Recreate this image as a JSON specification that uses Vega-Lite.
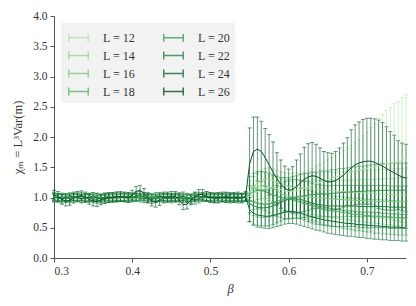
{
"$schema":"https://vega.github.io/schema/vega-lite/v6.json",
"width":352,"height":242,
"autosize":{"type":"none"},
"padding":{"left":54,"top":16,"right":10,"bottom":48},
"background":"white",
"data":{"values":[
{"L":12,"b":0.3,"m":1.0,"e":0.04},{"L":12,"b":0.305,"m":1.01,"e":0.04},{"L":12,"b":0.31,"m":1.0,"e":0.04},{"L":12,"b":0.315,"m":0.99,"e":0.04},{"L":12,"b":0.32,"m":1.0,"e":0.04},{"L":12,"b":0.325,"m":1.0,"e":0.04},{"L":12,"b":0.33,"m":1.01,"e":0.04},{"L":12,"b":0.335,"m":1.0,"e":0.04},{"L":12,"b":0.34,"m":1.0,"e":0.04},{"L":12,"b":0.345,"m":0.99,"e":0.04},
{"L":12,"b":0.35,"m":1.0,"e":0.04},{"L":12,"b":0.355,"m":1.01,"e":0.04},{"L":12,"b":0.36,"m":1.0,"e":0.04},{"L":12,"b":0.365,"m":1.0,"e":0.04},{"L":12,"b":0.37,"m":0.99,"e":0.04},{"L":12,"b":0.375,"m":1.0,"e":0.04},{"L":12,"b":0.38,"m":1.0,"e":0.04},{"L":12,"b":0.385,"m":1.01,"e":0.04},{"L":12,"b":0.39,"m":1.0,"e":0.04},{"L":12,"b":0.395,"m":1.0,"e":0.04},
{"L":12,"b":0.4,"m":0.99,"e":0.04},{"L":12,"b":0.405,"m":1.0,"e":0.04},{"L":12,"b":0.41,"m":1.01,"e":0.04},{"L":12,"b":0.415,"m":1.0,"e":0.04},{"L":12,"b":0.42,"m":1.0,"e":0.04},{"L":12,"b":0.425,"m":1.0,"e":0.04},{"L":12,"b":0.43,"m":0.99,"e":0.04},{"L":12,"b":0.435,"m":1.0,"e":0.04},{"L":12,"b":0.44,"m":1.01,"e":0.04},{"L":12,"b":0.445,"m":1.0,"e":0.04},
{"L":12,"b":0.45,"m":1.0,"e":0.04},{"L":12,"b":0.455,"m":0.99,"e":0.04},{"L":12,"b":0.46,"m":1.0,"e":0.04},{"L":12,"b":0.465,"m":1.0,"e":0.04},{"L":12,"b":0.47,"m":1.01,"e":0.04},{"L":12,"b":0.475,"m":1.0,"e":0.04},{"L":12,"b":0.48,"m":1.0,"e":0.04},{"L":12,"b":0.485,"m":0.99,"e":0.04},{"L":12,"b":0.49,"m":1.0,"e":0.04},{"L":12,"b":0.495,"m":1.01,"e":0.04},
{"L":12,"b":0.5,"m":1.0,"e":0.04},{"L":12,"b":0.505,"m":1.0,"e":0.04},{"L":12,"b":0.51,"m":0.99,"e":0.04},{"L":12,"b":0.515,"m":1.0,"e":0.04},{"L":12,"b":0.52,"m":1.0,"e":0.04},{"L":12,"b":0.525,"m":1.01,"e":0.04},{"L":12,"b":0.53,"m":1.0,"e":0.04},{"L":12,"b":0.535,"m":1.0,"e":0.04},{"L":12,"b":0.54,"m":0.99,"e":0.04},{"L":12,"b":0.545,"m":1.0,"e":0.04},
{"L":12,"b":0.55,"m":1.02,"e":0.12},{"L":12,"b":0.555,"m":1.06,"e":0.13},{"L":12,"b":0.56,"m":1.1,"e":0.14},{"L":12,"b":0.565,"m":1.13,"e":0.15},{"L":12,"b":0.57,"m":1.15,"e":0.16},{"L":12,"b":0.575,"m":1.16,"e":0.17},{"L":12,"b":0.58,"m":1.16,"e":0.18},{"L":12,"b":0.585,"m":1.15,"e":0.19},{"L":12,"b":0.59,"m":1.13,"e":0.2},{"L":12,"b":0.595,"m":1.11,"e":0.21},
{"L":12,"b":0.6,"m":1.1,"e":0.22},{"L":12,"b":0.605,"m":1.1,"e":0.23},{"L":12,"b":0.61,"m":1.11,"e":0.24},{"L":12,"b":0.615,"m":1.13,"e":0.25},{"L":12,"b":0.62,"m":1.15,"e":0.26},{"L":12,"b":0.625,"m":1.18,"e":0.27},{"L":12,"b":0.63,"m":1.2,"e":0.28},{"L":12,"b":0.635,"m":1.23,"e":0.29},{"L":12,"b":0.64,"m":1.25,"e":0.3},{"L":12,"b":0.645,"m":1.28,"e":0.31},
{"L":12,"b":0.65,"m":1.3,"e":0.32},{"L":12,"b":0.655,"m":1.32,"e":0.34},{"L":12,"b":0.66,"m":1.34,"e":0.36},{"L":12,"b":0.665,"m":1.36,"e":0.38},{"L":12,"b":0.67,"m":1.38,"e":0.4},{"L":12,"b":0.675,"m":1.4,"e":0.42},{"L":12,"b":0.68,"m":1.42,"e":0.44},{"L":12,"b":0.685,"m":1.44,"e":0.47},{"L":12,"b":0.69,"m":1.45,"e":0.5},{"L":12,"b":0.695,"m":1.47,"e":0.55},
{"L":12,"b":0.7,"m":1.48,"e":0.6},{"L":12,"b":0.705,"m":1.5,"e":0.66},{"L":12,"b":0.71,"m":1.51,"e":0.72},{"L":12,"b":0.715,"m":1.53,"e":0.78},{"L":12,"b":0.72,"m":1.54,"e":0.83},{"L":12,"b":0.725,"m":1.56,"e":0.88},{"L":12,"b":0.73,"m":1.57,"e":0.92},{"L":12,"b":0.735,"m":1.59,"e":0.96},{"L":12,"b":0.74,"m":1.6,"e":0.99},{"L":12,"b":0.745,"m":1.62,"e":1.03},{"L":12,"b":0.75,"m":1.63,"e":1.07},

{"L":14,"b":0.3,"m":1.01,"e":0.045},{"L":14,"b":0.305,"m":1.0,"e":0.045},{"L":14,"b":0.31,"m":1.0,"e":0.045},{"L":14,"b":0.315,"m":0.99,"e":0.045},{"L":14,"b":0.32,"m":1.0,"e":0.045},{"L":14,"b":0.325,"m":1.01,"e":0.045},{"L":14,"b":0.33,"m":1.0,"e":0.045},{"L":14,"b":0.335,"m":0.99,"e":0.045},{"L":14,"b":0.34,"m":1.0,"e":0.045},{"L":14,"b":0.345,"m":1.0,"e":0.045},
{"L":14,"b":0.35,"m":1.01,"e":0.045},{"L":14,"b":0.355,"m":1.0,"e":0.045},{"L":14,"b":0.36,"m":0.99,"e":0.045},{"L":14,"b":0.365,"m":1.0,"e":0.045},{"L":14,"b":0.37,"m":1.0,"e":0.045},{"L":14,"b":0.375,"m":1.01,"e":0.045},{"L":14,"b":0.38,"m":1.0,"e":0.045},{"L":14,"b":0.385,"m":1.0,"e":0.045},{"L":14,"b":0.39,"m":0.99,"e":0.045},{"L":14,"b":0.395,"m":1.0,"e":0.045},
{"L":14,"b":0.4,"m":1.01,"e":0.045},{"L":14,"b":0.405,"m":1.0,"e":0.045},{"L":14,"b":0.41,"m":1.0,"e":0.045},{"L":14,"b":0.415,"m":0.99,"e":0.045},{"L":14,"b":0.42,"m":1.0,"e":0.045},{"L":14,"b":0.425,"m":1.01,"e":0.045},{"L":14,"b":0.43,"m":1.0,"e":0.045},{"L":14,"b":0.435,"m":1.0,"e":0.045},{"L":14,"b":0.44,"m":0.99,"e":0.045},{"L":14,"b":0.445,"m":1.0,"e":0.045},
{"L":14,"b":0.45,"m":1.0,"e":0.045},{"L":14,"b":0.455,"m":1.01,"e":0.045},{"L":14,"b":0.46,"m":1.0,"e":0.045},{"L":14,"b":0.465,"m":1.0,"e":0.045},{"L":14,"b":0.47,"m":0.99,"e":0.045},{"L":14,"b":0.475,"m":1.0,"e":0.045},{"L":14,"b":0.48,"m":1.0,"e":0.045},{"L":14,"b":0.485,"m":1.01,"e":0.045},{"L":14,"b":0.49,"m":1.0,"e":0.045},{"L":14,"b":0.495,"m":0.99,"e":0.045},
{"L":14,"b":0.5,"m":1.0,"e":0.045},{"L":14,"b":0.505,"m":1.0,"e":0.045},{"L":14,"b":0.51,"m":1.01,"e":0.045},{"L":14,"b":0.515,"m":1.0,"e":0.045},{"L":14,"b":0.52,"m":1.0,"e":0.045},{"L":14,"b":0.525,"m":0.99,"e":0.045},{"L":14,"b":0.53,"m":1.0,"e":0.045},{"L":14,"b":0.535,"m":1.01,"e":0.045},{"L":14,"b":0.54,"m":1.0,"e":0.045},{"L":14,"b":0.545,"m":1.0,"e":0.045},
{"L":14,"b":0.55,"m":1.1,"e":0.15},{"L":14,"b":0.555,"m":1.18,"e":0.16},{"L":14,"b":0.56,"m":1.24,"e":0.17},{"L":14,"b":0.565,"m":1.28,"e":0.17},{"L":14,"b":0.57,"m":1.3,"e":0.18},{"L":14,"b":0.575,"m":1.3,"e":0.19},{"L":14,"b":0.58,"m":1.28,"e":0.19},{"L":14,"b":0.585,"m":1.25,"e":0.2},{"L":14,"b":0.59,"m":1.22,"e":0.21},{"L":14,"b":0.595,"m":1.2,"e":0.21},
{"L":14,"b":0.6,"m":1.18,"e":0.22},{"L":14,"b":0.605,"m":1.17,"e":0.23},{"L":14,"b":0.61,"m":1.17,"e":0.24},{"L":14,"b":0.615,"m":1.16,"e":0.24},{"L":14,"b":0.62,"m":1.16,"e":0.25},{"L":14,"b":0.625,"m":1.15,"e":0.26},{"L":14,"b":0.63,"m":1.15,"e":0.27},{"L":14,"b":0.635,"m":1.14,"e":0.27},{"L":14,"b":0.64,"m":1.13,"e":0.28},{"L":14,"b":0.645,"m":1.13,"e":0.29},
{"L":14,"b":0.65,"m":1.12,"e":0.3},{"L":14,"b":0.655,"m":1.11,"e":0.31},{"L":14,"b":0.66,"m":1.11,"e":0.31},{"L":14,"b":0.665,"m":1.1,"e":0.32},{"L":14,"b":0.67,"m":1.1,"e":0.33},{"L":14,"b":0.675,"m":1.09,"e":0.34},{"L":14,"b":0.68,"m":1.09,"e":0.34},{"L":14,"b":0.685,"m":1.08,"e":0.35},{"L":14,"b":0.69,"m":1.08,"e":0.36},{"L":14,"b":0.695,"m":1.07,"e":0.37},
{"L":14,"b":0.7,"m":1.07,"e":0.38},{"L":14,"b":0.705,"m":1.07,"e":0.38},{"L":14,"b":0.71,"m":1.06,"e":0.39},{"L":14,"b":0.715,"m":1.06,"e":0.4},{"L":14,"b":0.72,"m":1.06,"e":0.41},{"L":14,"b":0.725,"m":1.05,"e":0.41},{"L":14,"b":0.73,"m":1.05,"e":0.42},{"L":14,"b":0.735,"m":1.05,"e":0.43},{"L":14,"b":0.74,"m":1.04,"e":0.44},{"L":14,"b":0.745,"m":1.04,"e":0.44},{"L":14,"b":0.75,"m":1.04,"e":0.45},

{"L":16,"b":0.3,"m":1.0,"e":0.05},{"L":16,"b":0.305,"m":1.0,"e":0.05},{"L":16,"b":0.31,"m":1.01,"e":0.05},{"L":16,"b":0.315,"m":1.0,"e":0.05},{"L":16,"b":0.32,"m":0.99,"e":0.05},{"L":16,"b":0.325,"m":1.0,"e":0.05},{"L":16,"b":0.33,"m":1.0,"e":0.05},{"L":16,"b":0.335,"m":1.01,"e":0.05},{"L":16,"b":0.34,"m":1.0,"e":0.05},{"L":16,"b":0.345,"m":0.99,"e":0.05},
{"L":16,"b":0.35,"m":1.0,"e":0.05},{"L":16,"b":0.355,"m":1.01,"e":0.05},{"L":16,"b":0.36,"m":1.0,"e":0.05},{"L":16,"b":0.365,"m":1.0,"e":0.05},{"L":16,"b":0.37,"m":0.99,"e":0.05},{"L":16,"b":0.375,"m":1.0,"e":0.05},{"L":16,"b":0.38,"m":1.01,"e":0.05},{"L":16,"b":0.385,"m":1.0,"e":0.05},{"L":16,"b":0.39,"m":1.0,"e":0.05},{"L":16,"b":0.395,"m":0.99,"e":0.05},
{"L":16,"b":0.4,"m":1.0,"e":0.05},{"L":16,"b":0.405,"m":1.0,"e":0.05},{"L":16,"b":0.41,"m":1.01,"e":0.05},{"L":16,"b":0.415,"m":1.0,"e":0.05},{"L":16,"b":0.42,"m":0.99,"e":0.05},{"L":16,"b":0.425,"m":1.0,"e":0.05},{"L":16,"b":0.43,"m":1.0,"e":0.05},{"L":16,"b":0.435,"m":1.01,"e":0.05},{"L":16,"b":0.44,"m":1.0,"e":0.05},{"L":16,"b":0.445,"m":1.0,"e":0.05},
{"L":16,"b":0.45,"m":0.99,"e":0.05},{"L":16,"b":0.455,"m":1.0,"e":0.05},{"L":16,"b":0.46,"m":1.01,"e":0.05},{"L":16,"b":0.465,"m":1.0,"e":0.05},{"L":16,"b":0.47,"m":1.0,"e":0.05},{"L":16,"b":0.475,"m":0.99,"e":0.05},{"L":16,"b":0.48,"m":1.0,"e":0.05},{"L":16,"b":0.485,"m":1.0,"e":0.05},{"L":16,"b":0.49,"m":1.01,"e":0.05},{"L":16,"b":0.495,"m":1.0,"e":0.05},
{"L":16,"b":0.5,"m":1.0,"e":0.05},{"L":16,"b":0.505,"m":0.99,"e":0.05},{"L":16,"b":0.51,"m":1.0,"e":0.05},{"L":16,"b":0.515,"m":1.01,"e":0.05},{"L":16,"b":0.52,"m":1.0,"e":0.05},{"L":16,"b":0.525,"m":1.0,"e":0.05},{"L":16,"b":0.53,"m":0.99,"e":0.05},{"L":16,"b":0.535,"m":1.0,"e":0.05},{"L":16,"b":0.54,"m":1.0,"e":0.05},{"L":16,"b":0.545,"m":1.01,"e":0.05},
{"L":16,"b":0.55,"m":1.08,"e":0.2},{"L":16,"b":0.555,"m":1.14,"e":0.21},{"L":16,"b":0.56,"m":1.18,"e":0.21},{"L":16,"b":0.565,"m":1.2,"e":0.22},{"L":16,"b":0.57,"m":1.2,"e":0.22},{"L":16,"b":0.575,"m":1.18,"e":0.23},{"L":16,"b":0.58,"m":1.15,"e":0.23},{"L":16,"b":0.585,"m":1.11,"e":0.24},{"L":16,"b":0.59,"m":1.07,"e":0.24},{"L":16,"b":0.595,"m":1.04,"e":0.25},
{"L":16,"b":0.6,"m":1.02,"e":0.25},{"L":16,"b":0.605,"m":1.01,"e":0.26},{"L":16,"b":0.61,"m":1.01,"e":0.26},{"L":16,"b":0.615,"m":1.01,"e":0.27},{"L":16,"b":0.62,"m":1.01,"e":0.27},{"L":16,"b":0.625,"m":1.01,"e":0.28},{"L":16,"b":0.63,"m":1.0,"e":0.28},{"L":16,"b":0.635,"m":1.0,"e":0.29},{"L":16,"b":0.64,"m":0.99,"e":0.29},{"L":16,"b":0.645,"m":0.99,"e":0.3},
{"L":16,"b":0.65,"m":0.98,"e":0.3},{"L":16,"b":0.655,"m":0.98,"e":0.31},{"L":16,"b":0.66,"m":0.97,"e":0.31},{"L":16,"b":0.665,"m":0.97,"e":0.32},{"L":16,"b":0.67,"m":0.96,"e":0.32},{"L":16,"b":0.675,"m":0.96,"e":0.33},{"L":16,"b":0.68,"m":0.96,"e":0.33},{"L":16,"b":0.685,"m":0.95,"e":0.34},{"L":16,"b":0.69,"m":0.95,"e":0.34},{"L":16,"b":0.695,"m":0.95,"e":0.35},
{"L":16,"b":0.7,"m":0.94,"e":0.35},{"L":16,"b":0.705,"m":0.94,"e":0.36},{"L":16,"b":0.71,"m":0.94,"e":0.36},{"L":16,"b":0.715,"m":0.94,"e":0.37},{"L":16,"b":0.72,"m":0.93,"e":0.37},{"L":16,"b":0.725,"m":0.93,"e":0.38},{"L":16,"b":0.73,"m":0.93,"e":0.38},{"L":16,"b":0.735,"m":0.93,"e":0.39},{"L":16,"b":0.74,"m":0.93,"e":0.39},{"L":16,"b":0.745,"m":0.93,"e":0.4},{"L":16,"b":0.75,"m":0.93,"e":0.4},

{"L":18,"b":0.3,"m":1.01,"e":0.055},{"L":18,"b":0.305,"m":1.0,"e":0.055},{"L":18,"b":0.31,"m":0.99,"e":0.055},{"L":18,"b":0.315,"m":1.0,"e":0.055},{"L":18,"b":0.32,"m":1.01,"e":0.055},{"L":18,"b":0.325,"m":1.0,"e":0.055},{"L":18,"b":0.33,"m":0.99,"e":0.055},{"L":18,"b":0.335,"m":1.0,"e":0.055},{"L":18,"b":0.34,"m":1.01,"e":0.055},{"L":18,"b":0.345,"m":1.01,"e":0.055},
{"L":18,"b":0.35,"m":1.0,"e":0.055},{"L":18,"b":0.355,"m":0.99,"e":0.055},{"L":18,"b":0.36,"m":0.99,"e":0.055},{"L":18,"b":0.365,"m":1.0,"e":0.055},{"L":18,"b":0.37,"m":1.01,"e":0.055},{"L":18,"b":0.375,"m":1.0,"e":0.055},{"L":18,"b":0.38,"m":0.99,"e":0.055},{"L":18,"b":0.385,"m":0.99,"e":0.055},{"L":18,"b":0.39,"m":1.0,"e":0.055},{"L":18,"b":0.395,"m":1.01,"e":0.055},
{"L":18,"b":0.4,"m":1.0,"e":0.055},{"L":18,"b":0.405,"m":0.99,"e":0.055},{"L":18,"b":0.41,"m":1.0,"e":0.055},{"L":18,"b":0.415,"m":1.01,"e":0.055},{"L":18,"b":0.42,"m":1.01,"e":0.055},{"L":18,"b":0.425,"m":1.0,"e":0.055},{"L":18,"b":0.43,"m":0.99,"e":0.055},{"L":18,"b":0.435,"m":1.0,"e":0.055},{"L":18,"b":0.44,"m":1.0,"e":0.055},{"L":18,"b":0.445,"m":1.01,"e":0.055},
{"L":18,"b":0.45,"m":1.0,"e":0.055},{"L":18,"b":0.455,"m":0.99,"e":0.055},{"L":18,"b":0.46,"m":1.0,"e":0.055},{"L":18,"b":0.465,"m":1.01,"e":0.055},{"L":18,"b":0.47,"m":1.0,"e":0.055},{"L":18,"b":0.475,"m":0.99,"e":0.055},{"L":18,"b":0.48,"m":1.0,"e":0.055},{"L":18,"b":0.485,"m":1.0,"e":0.055},{"L":18,"b":0.49,"m":1.01,"e":0.055},{"L":18,"b":0.495,"m":1.0,"e":0.055},
{"L":18,"b":0.5,"m":0.99,"e":0.055},{"L":18,"b":0.505,"m":1.0,"e":0.055},{"L":18,"b":0.51,"m":1.01,"e":0.055},{"L":18,"b":0.515,"m":1.0,"e":0.055},{"L":18,"b":0.52,"m":1.0,"e":0.055},{"L":18,"b":0.525,"m":0.99,"e":0.055},{"L":18,"b":0.53,"m":1.0,"e":0.055},{"L":18,"b":0.535,"m":1.01,"e":0.055},{"L":18,"b":0.54,"m":1.0,"e":0.055},{"L":18,"b":0.545,"m":1.0,"e":0.055},
{"L":18,"b":0.55,"m":0.95,"e":0.22},{"L":18,"b":0.555,"m":0.92,"e":0.22},{"L":18,"b":0.56,"m":0.9,"e":0.22},{"L":18,"b":0.565,"m":0.89,"e":0.22},{"L":18,"b":0.57,"m":0.89,"e":0.22},{"L":18,"b":0.575,"m":0.9,"e":0.22},{"L":18,"b":0.58,"m":0.92,"e":0.22},{"L":18,"b":0.585,"m":0.94,"e":0.22},{"L":18,"b":0.59,"m":0.96,"e":0.22},{"L":18,"b":0.595,"m":0.97,"e":0.22},
{"L":18,"b":0.6,"m":0.97,"e":0.22},{"L":18,"b":0.605,"m":0.96,"e":0.23},{"L":18,"b":0.61,"m":0.94,"e":0.23},{"L":18,"b":0.615,"m":0.92,"e":0.23},{"L":18,"b":0.62,"m":0.9,"e":0.23},{"L":18,"b":0.625,"m":0.88,"e":0.24},{"L":18,"b":0.63,"m":0.86,"e":0.24},{"L":18,"b":0.635,"m":0.84,"e":0.24},{"L":18,"b":0.64,"m":0.82,"e":0.24},{"L":18,"b":0.645,"m":0.8,"e":0.25},
{"L":18,"b":0.65,"m":0.79,"e":0.25},{"L":18,"b":0.655,"m":0.78,"e":0.25},{"L":18,"b":0.66,"m":0.77,"e":0.25},{"L":18,"b":0.665,"m":0.76,"e":0.26},{"L":18,"b":0.67,"m":0.75,"e":0.26},{"L":18,"b":0.675,"m":0.74,"e":0.26},{"L":18,"b":0.68,"m":0.73,"e":0.26},{"L":18,"b":0.685,"m":0.72,"e":0.27},{"L":18,"b":0.69,"m":0.72,"e":0.27},{"L":18,"b":0.695,"m":0.71,"e":0.27},
{"L":18,"b":0.7,"m":0.7,"e":0.27},{"L":18,"b":0.705,"m":0.7,"e":0.27},{"L":18,"b":0.71,"m":0.69,"e":0.28},{"L":18,"b":0.715,"m":0.69,"e":0.28},{"L":18,"b":0.72,"m":0.68,"e":0.28},{"L":18,"b":0.725,"m":0.68,"e":0.28},{"L":18,"b":0.73,"m":0.67,"e":0.28},{"L":18,"b":0.735,"m":0.67,"e":0.28},{"L":18,"b":0.74,"m":0.66,"e":0.28},{"L":18,"b":0.745,"m":0.66,"e":0.28},{"L":18,"b":0.75,"m":0.66,"e":0.28},

{"L":20,"b":0.3,"m":1.0,"e":0.06},{"L":20,"b":0.305,"m":1.01,"e":0.06},{"L":20,"b":0.31,"m":1.0,"e":0.06},{"L":20,"b":0.315,"m":0.99,"e":0.06},{"L":20,"b":0.32,"m":1.0,"e":0.06},{"L":20,"b":0.325,"m":1.01,"e":0.06},{"L":20,"b":0.33,"m":0.99,"e":0.06},{"L":20,"b":0.335,"m":0.98,"e":0.06},{"L":20,"b":0.34,"m":0.99,"e":0.06},{"L":20,"b":0.345,"m":1.01,"e":0.06},
{"L":20,"b":0.35,"m":1.02,"e":0.06},{"L":20,"b":0.355,"m":1.01,"e":0.06},{"L":20,"b":0.36,"m":1.0,"e":0.06},{"L":20,"b":0.365,"m":0.99,"e":0.06},{"L":20,"b":0.37,"m":0.98,"e":0.06},{"L":20,"b":0.375,"m":0.99,"e":0.06},{"L":20,"b":0.38,"m":1.0,"e":0.06},{"L":20,"b":0.385,"m":1.01,"e":0.06},{"L":20,"b":0.39,"m":1.0,"e":0.06},{"L":20,"b":0.395,"m":1.0,"e":0.06},
{"L":20,"b":0.4,"m":0.99,"e":0.06},{"L":20,"b":0.405,"m":1.0,"e":0.06},{"L":20,"b":0.41,"m":1.01,"e":0.06},{"L":20,"b":0.415,"m":1.02,"e":0.06},{"L":20,"b":0.42,"m":1.01,"e":0.06},{"L":20,"b":0.425,"m":1.0,"e":0.06},{"L":20,"b":0.43,"m":0.98,"e":0.06},{"L":20,"b":0.435,"m":0.99,"e":0.06},{"L":20,"b":0.44,"m":1.0,"e":0.06},{"L":20,"b":0.445,"m":1.01,"e":0.06},
{"L":20,"b":0.45,"m":1.01,"e":0.06},{"L":20,"b":0.455,"m":1.0,"e":0.06},{"L":20,"b":0.46,"m":0.99,"e":0.06},{"L":20,"b":0.465,"m":0.98,"e":0.06},{"L":20,"b":0.47,"m":0.99,"e":0.06},{"L":20,"b":0.475,"m":1.0,"e":0.06},{"L":20,"b":0.48,"m":1.01,"e":0.06},{"L":20,"b":0.485,"m":1.0,"e":0.06},{"L":20,"b":0.49,"m":0.99,"e":0.06},{"L":20,"b":0.495,"m":1.0,"e":0.06},
{"L":20,"b":0.5,"m":1.01,"e":0.06},{"L":20,"b":0.505,"m":1.02,"e":0.06},{"L":20,"b":0.51,"m":1.01,"e":0.06},{"L":20,"b":0.515,"m":0.99,"e":0.06},{"L":20,"b":0.52,"m":0.98,"e":0.06},{"L":20,"b":0.525,"m":0.99,"e":0.06},{"L":20,"b":0.53,"m":1.0,"e":0.06},{"L":20,"b":0.535,"m":1.01,"e":0.06},{"L":20,"b":0.54,"m":1.0,"e":0.06},{"L":20,"b":0.545,"m":1.0,"e":0.06},
{"L":20,"b":0.55,"m":1.05,"e":0.3},{"L":20,"b":0.555,"m":1.1,"e":0.3},{"L":20,"b":0.56,"m":1.12,"e":0.31},{"L":20,"b":0.565,"m":1.12,"e":0.31},{"L":20,"b":0.57,"m":1.1,"e":0.32},{"L":20,"b":0.575,"m":1.07,"e":0.32},{"L":20,"b":0.58,"m":1.04,"e":0.33},{"L":20,"b":0.585,"m":1.02,"e":0.33},{"L":20,"b":0.59,"m":1.0,"e":0.33},{"L":20,"b":0.595,"m":0.99,"e":0.34},
{"L":20,"b":0.6,"m":0.99,"e":0.34},{"L":20,"b":0.605,"m":1.0,"e":0.35},{"L":20,"b":0.61,"m":1.01,"e":0.35},{"L":20,"b":0.615,"m":1.02,"e":0.36},{"L":20,"b":0.62,"m":1.03,"e":0.36},{"L":20,"b":0.625,"m":1.04,"e":0.36},{"L":20,"b":0.63,"m":1.05,"e":0.37},{"L":20,"b":0.635,"m":1.05,"e":0.37},{"L":20,"b":0.64,"m":1.06,"e":0.38},{"L":20,"b":0.645,"m":1.06,"e":0.38},
{"L":20,"b":0.65,"m":1.06,"e":0.38},{"L":20,"b":0.655,"m":1.07,"e":0.39},{"L":20,"b":0.66,"m":1.07,"e":0.39},{"L":20,"b":0.665,"m":1.08,"e":0.4},{"L":20,"b":0.67,"m":1.08,"e":0.4},{"L":20,"b":0.675,"m":1.09,"e":0.4},{"L":20,"b":0.68,"m":1.09,"e":0.41},{"L":20,"b":0.685,"m":1.1,"e":0.41},{"L":20,"b":0.69,"m":1.1,"e":0.42},{"L":20,"b":0.695,"m":1.1,"e":0.42},
{"L":20,"b":0.7,"m":1.11,"e":0.42},{"L":20,"b":0.705,"m":1.11,"e":0.43},{"L":20,"b":0.71,"m":1.11,"e":0.43},{"L":20,"b":0.715,"m":1.12,"e":0.43},{"L":20,"b":0.72,"m":1.12,"e":0.44},{"L":20,"b":0.725,"m":1.12,"e":0.44},{"L":20,"b":0.73,"m":1.12,"e":0.44},{"L":20,"b":0.735,"m":1.12,"e":0.45},{"L":20,"b":0.74,"m":1.12,"e":0.45},{"L":20,"b":0.745,"m":1.12,"e":0.45},{"L":20,"b":0.75,"m":1.12,"e":0.45},

{"L":22,"b":0.3,"m":0.99,"e":0.065},{"L":22,"b":0.305,"m":1.0,"e":0.065},{"L":22,"b":0.31,"m":1.01,"e":0.065},{"L":22,"b":0.315,"m":1.0,"e":0.065},{"L":22,"b":0.32,"m":0.98,"e":0.065},{"L":22,"b":0.325,"m":0.99,"e":0.065},{"L":22,"b":0.33,"m":1.01,"e":0.065},{"L":22,"b":0.335,"m":1.02,"e":0.065},{"L":22,"b":0.34,"m":1.0,"e":0.065},{"L":22,"b":0.345,"m":0.99,"e":0.065},
{"L":22,"b":0.35,"m":0.98,"e":0.065},{"L":22,"b":0.355,"m":0.97,"e":0.065},{"L":22,"b":0.36,"m":0.99,"e":0.065},{"L":22,"b":0.365,"m":1.01,"e":0.065},{"L":22,"b":0.37,"m":1.01,"e":0.065},{"L":22,"b":0.375,"m":1.0,"e":0.065},{"L":22,"b":0.38,"m":0.99,"e":0.065},{"L":22,"b":0.385,"m":1.0,"e":0.065},{"L":22,"b":0.39,"m":1.01,"e":0.065},{"L":22,"b":0.395,"m":1.02,"e":0.065},
{"L":22,"b":0.4,"m":1.01,"e":0.065},{"L":22,"b":0.405,"m":1.0,"e":0.065},{"L":22,"b":0.41,"m":0.99,"e":0.065},{"L":22,"b":0.415,"m":0.98,"e":0.065},{"L":22,"b":0.42,"m":0.99,"e":0.065},{"L":22,"b":0.425,"m":1.0,"e":0.065},{"L":22,"b":0.43,"m":1.02,"e":0.065},{"L":22,"b":0.435,"m":1.01,"e":0.065},{"L":22,"b":0.44,"m":0.99,"e":0.065},{"L":22,"b":0.445,"m":0.98,"e":0.065},
{"L":22,"b":0.45,"m":1.0,"e":0.065},{"L":22,"b":0.455,"m":1.01,"e":0.065},{"L":22,"b":0.46,"m":1.0,"e":0.065},{"L":22,"b":0.465,"m":0.99,"e":0.065},{"L":22,"b":0.47,"m":0.98,"e":0.065},{"L":22,"b":0.475,"m":0.99,"e":0.065},{"L":22,"b":0.48,"m":1.01,"e":0.065},{"L":22,"b":0.485,"m":1.02,"e":0.065},{"L":22,"b":0.49,"m":1.01,"e":0.065},{"L":22,"b":0.495,"m":1.0,"e":0.065},
{"L":22,"b":0.5,"m":0.99,"e":0.065},{"L":22,"b":0.505,"m":1.0,"e":0.065},{"L":22,"b":0.51,"m":1.01,"e":0.065},{"L":22,"b":0.515,"m":1.0,"e":0.065},{"L":22,"b":0.52,"m":0.99,"e":0.065},{"L":22,"b":0.525,"m":1.0,"e":0.065},{"L":22,"b":0.53,"m":1.01,"e":0.065},{"L":22,"b":0.535,"m":1.0,"e":0.065},{"L":22,"b":0.54,"m":0.99,"e":0.065},{"L":22,"b":0.545,"m":1.0,"e":0.065},
{"L":22,"b":0.55,"m":0.9,"e":0.3},{"L":22,"b":0.555,"m":0.86,"e":0.3},{"L":22,"b":0.56,"m":0.84,"e":0.3},{"L":22,"b":0.565,"m":0.83,"e":0.3},{"L":22,"b":0.57,"m":0.83,"e":0.3},{"L":22,"b":0.575,"m":0.84,"e":0.31},{"L":22,"b":0.58,"m":0.86,"e":0.31},{"L":22,"b":0.585,"m":0.89,"e":0.31},{"L":22,"b":0.59,"m":0.92,"e":0.31},{"L":22,"b":0.595,"m":0.95,"e":0.31},
{"L":22,"b":0.6,"m":0.97,"e":0.32},{"L":22,"b":0.605,"m":0.98,"e":0.32},{"L":22,"b":0.61,"m":0.98,"e":0.32},{"L":22,"b":0.615,"m":0.97,"e":0.32},{"L":22,"b":0.62,"m":0.95,"e":0.32},{"L":22,"b":0.625,"m":0.93,"e":0.33},{"L":22,"b":0.63,"m":0.91,"e":0.33},{"L":22,"b":0.635,"m":0.89,"e":0.33},{"L":22,"b":0.64,"m":0.88,"e":0.33},{"L":22,"b":0.645,"m":0.87,"e":0.33},
{"L":22,"b":0.65,"m":0.86,"e":0.33},{"L":22,"b":0.655,"m":0.86,"e":0.34},{"L":22,"b":0.66,"m":0.86,"e":0.34},{"L":22,"b":0.665,"m":0.86,"e":0.34},{"L":22,"b":0.67,"m":0.86,"e":0.34},{"L":22,"b":0.675,"m":0.86,"e":0.34},{"L":22,"b":0.68,"m":0.86,"e":0.34},{"L":22,"b":0.685,"m":0.86,"e":0.34},{"L":22,"b":0.69,"m":0.85,"e":0.35},{"L":22,"b":0.695,"m":0.85,"e":0.35},
{"L":22,"b":0.7,"m":0.85,"e":0.35},{"L":22,"b":0.705,"m":0.85,"e":0.35},{"L":22,"b":0.71,"m":0.85,"e":0.35},{"L":22,"b":0.715,"m":0.85,"e":0.35},{"L":22,"b":0.72,"m":0.85,"e":0.35},{"L":22,"b":0.725,"m":0.85,"e":0.35},{"L":22,"b":0.73,"m":0.84,"e":0.35},{"L":22,"b":0.735,"m":0.84,"e":0.35},{"L":22,"b":0.74,"m":0.84,"e":0.35},{"L":22,"b":0.745,"m":0.84,"e":0.35},{"L":22,"b":0.75,"m":0.84,"e":0.35},

{"L":24,"b":0.3,"m":1.01,"e":0.07},{"L":24,"b":0.305,"m":0.99,"e":0.07},{"L":24,"b":0.31,"m":0.98,"e":0.07},{"L":24,"b":0.315,"m":0.99,"e":0.07},{"L":24,"b":0.32,"m":1.01,"e":0.07},{"L":24,"b":0.325,"m":1.02,"e":0.07},{"L":24,"b":0.33,"m":1.0,"e":0.07},{"L":24,"b":0.335,"m":0.98,"e":0.07},{"L":24,"b":0.34,"m":0.99,"e":0.07},{"L":24,"b":0.345,"m":1.0,"e":0.07},
{"L":24,"b":0.35,"m":1.01,"e":0.07},{"L":24,"b":0.355,"m":1.0,"e":0.07},{"L":24,"b":0.36,"m":0.98,"e":0.07},{"L":24,"b":0.365,"m":0.97,"e":0.07},{"L":24,"b":0.37,"m":0.99,"e":0.07},{"L":24,"b":0.375,"m":1.01,"e":0.07},{"L":24,"b":0.38,"m":1.02,"e":0.07},{"L":24,"b":0.385,"m":1.01,"e":0.07},{"L":24,"b":0.39,"m":1.0,"e":0.07},{"L":24,"b":0.395,"m":0.99,"e":0.07},
{"L":24,"b":0.4,"m":1.0,"e":0.07},{"L":24,"b":0.405,"m":1.02,"e":0.07},{"L":24,"b":0.41,"m":1.03,"e":0.07},{"L":24,"b":0.415,"m":1.01,"e":0.07},{"L":24,"b":0.42,"m":0.98,"e":0.07},{"L":24,"b":0.425,"m":0.97,"e":0.07},{"L":24,"b":0.43,"m":0.99,"e":0.07},{"L":24,"b":0.435,"m":1.01,"e":0.07},{"L":24,"b":0.44,"m":1.02,"e":0.07},{"L":24,"b":0.445,"m":1.0,"e":0.07},
{"L":24,"b":0.45,"m":0.98,"e":0.07},{"L":24,"b":0.455,"m":0.99,"e":0.07},{"L":24,"b":0.46,"m":1.01,"e":0.07},{"L":24,"b":0.465,"m":1.02,"e":0.07},{"L":24,"b":0.47,"m":1.0,"e":0.07},{"L":24,"b":0.475,"m":0.97,"e":0.07},{"L":24,"b":0.48,"m":0.96,"e":0.07},{"L":24,"b":0.485,"m":0.98,"e":0.07},{"L":24,"b":0.49,"m":1.01,"e":0.07},{"L":24,"b":0.495,"m":1.02,"e":0.07},
{"L":24,"b":0.5,"m":1.01,"e":0.07},{"L":24,"b":0.505,"m":0.99,"e":0.07},{"L":24,"b":0.51,"m":0.98,"e":0.07},{"L":24,"b":0.515,"m":1.0,"e":0.07},{"L":24,"b":0.52,"m":1.02,"e":0.07},{"L":24,"b":0.525,"m":1.01,"e":0.07},{"L":24,"b":0.53,"m":0.99,"e":0.07},{"L":24,"b":0.535,"m":0.98,"e":0.07},{"L":24,"b":0.54,"m":1.0,"e":0.07},{"L":24,"b":0.545,"m":1.01,"e":0.07},
{"L":24,"b":0.55,"m":0.8,"e":0.2},{"L":24,"b":0.555,"m":0.74,"e":0.2},{"L":24,"b":0.56,"m":0.71,"e":0.2},{"L":24,"b":0.565,"m":0.7,"e":0.2},{"L":24,"b":0.57,"m":0.69,"e":0.2},{"L":24,"b":0.575,"m":0.69,"e":0.2},{"L":24,"b":0.58,"m":0.7,"e":0.2},{"L":24,"b":0.585,"m":0.72,"e":0.2},{"L":24,"b":0.59,"m":0.74,"e":0.2},{"L":24,"b":0.595,"m":0.76,"e":0.2},
{"L":24,"b":0.6,"m":0.77,"e":0.2},{"L":24,"b":0.605,"m":0.77,"e":0.2},{"L":24,"b":0.61,"m":0.76,"e":0.2},{"L":24,"b":0.615,"m":0.74,"e":0.2},{"L":24,"b":0.62,"m":0.72,"e":0.2},{"L":24,"b":0.625,"m":0.7,"e":0.2},{"L":24,"b":0.63,"m":0.68,"e":0.2},{"L":24,"b":0.635,"m":0.66,"e":0.2},{"L":24,"b":0.64,"m":0.65,"e":0.2},{"L":24,"b":0.645,"m":0.63,"e":0.2},
{"L":24,"b":0.65,"m":0.62,"e":0.21},{"L":24,"b":0.655,"m":0.61,"e":0.21},{"L":24,"b":0.66,"m":0.6,"e":0.21},{"L":24,"b":0.665,"m":0.59,"e":0.21},{"L":24,"b":0.67,"m":0.58,"e":0.21},{"L":24,"b":0.675,"m":0.57,"e":0.21},{"L":24,"b":0.68,"m":0.57,"e":0.21},{"L":24,"b":0.685,"m":0.56,"e":0.21},{"L":24,"b":0.69,"m":0.55,"e":0.21},{"L":24,"b":0.695,"m":0.55,"e":0.21},
{"L":24,"b":0.7,"m":0.54,"e":0.22},{"L":24,"b":0.705,"m":0.54,"e":0.22},{"L":24,"b":0.71,"m":0.53,"e":0.22},{"L":24,"b":0.715,"m":0.53,"e":0.22},{"L":24,"b":0.72,"m":0.52,"e":0.22},{"L":24,"b":0.725,"m":0.52,"e":0.22},{"L":24,"b":0.73,"m":0.51,"e":0.22},{"L":24,"b":0.735,"m":0.51,"e":0.22},{"L":24,"b":0.74,"m":0.51,"e":0.22},{"L":24,"b":0.745,"m":0.5,"e":0.22},{"L":24,"b":0.75,"m":0.5,"e":0.22},

{"L":26,"b":0.3,"m":1.04,"e":0.08},{"L":26,"b":0.305,"m":1.02,"e":0.08},{"L":26,"b":0.31,"m":0.97,"e":0.08},{"L":26,"b":0.315,"m":0.94,"e":0.08},{"L":26,"b":0.32,"m":0.95,"e":0.08},{"L":26,"b":0.325,"m":0.99,"e":0.08},{"L":26,"b":0.33,"m":1.02,"e":0.08},{"L":26,"b":0.335,"m":1.03,"e":0.08},{"L":26,"b":0.34,"m":1.01,"e":0.08},{"L":26,"b":0.345,"m":0.97,"e":0.08},
{"L":26,"b":0.35,"m":0.94,"e":0.08},{"L":26,"b":0.355,"m":0.93,"e":0.08},{"L":26,"b":0.36,"m":0.96,"e":0.08},{"L":26,"b":0.365,"m":0.99,"e":0.08},{"L":26,"b":0.37,"m":1.0,"e":0.08},{"L":26,"b":0.375,"m":1.0,"e":0.08},{"L":26,"b":0.38,"m":1.01,"e":0.08},{"L":26,"b":0.385,"m":1.02,"e":0.08},{"L":26,"b":0.39,"m":1.01,"e":0.08},{"L":26,"b":0.395,"m":1.0,"e":0.08},
{"L":26,"b":0.4,"m":1.04,"e":0.08},{"L":26,"b":0.405,"m":1.1,"e":0.08},{"L":26,"b":0.41,"m":1.12,"e":0.08},{"L":26,"b":0.415,"m":1.07,"e":0.08},{"L":26,"b":0.42,"m":1.0,"e":0.08},{"L":26,"b":0.425,"m":0.94,"e":0.08},{"L":26,"b":0.43,"m":0.92,"e":0.08},{"L":26,"b":0.435,"m":0.95,"e":0.08},{"L":26,"b":0.44,"m":0.99,"e":0.08},{"L":26,"b":0.445,"m":1.01,"e":0.08},
{"L":26,"b":0.45,"m":1.02,"e":0.08},{"L":26,"b":0.455,"m":1.02,"e":0.08},{"L":26,"b":0.46,"m":0.96,"e":0.08},{"L":26,"b":0.465,"m":0.88,"e":0.08},{"L":26,"b":0.47,"m":0.89,"e":0.08},{"L":26,"b":0.475,"m":0.96,"e":0.08},{"L":26,"b":0.48,"m":1.01,"e":0.08},{"L":26,"b":0.485,"m":1.05,"e":0.08},{"L":26,"b":0.49,"m":1.05,"e":0.08},{"L":26,"b":0.495,"m":1.02,"e":0.08},
{"L":26,"b":0.5,"m":1.0,"e":0.08},{"L":26,"b":0.505,"m":0.99,"e":0.08},{"L":26,"b":0.51,"m":1.0,"e":0.08},{"L":26,"b":0.515,"m":1.01,"e":0.08},{"L":26,"b":0.52,"m":1.0,"e":0.08},{"L":26,"b":0.525,"m":0.99,"e":0.08},{"L":26,"b":0.53,"m":1.0,"e":0.08},{"L":26,"b":0.535,"m":1.01,"e":0.08},{"L":26,"b":0.54,"m":0.99,"e":0.08},{"L":26,"b":0.545,"m":1.02,"e":0.08},
{"L":26,"b":0.55,"m":1.55,"e":0.6},{"L":26,"b":0.555,"m":1.76,"e":0.57},{"L":26,"b":0.56,"m":1.8,"e":0.53},{"L":26,"b":0.565,"m":1.76,"e":0.5},{"L":26,"b":0.57,"m":1.66,"e":0.48},{"L":26,"b":0.575,"m":1.54,"e":0.5},{"L":26,"b":0.58,"m":1.42,"e":0.5},{"L":26,"b":0.585,"m":1.31,"e":0.43},{"L":26,"b":0.59,"m":1.22,"e":0.4},{"L":26,"b":0.595,"m":1.15,"e":0.37},
{"L":26,"b":0.6,"m":1.12,"e":0.35},{"L":26,"b":0.605,"m":1.13,"e":0.38},{"L":26,"b":0.61,"m":1.18,"e":0.44},{"L":26,"b":0.615,"m":1.24,"e":0.48},{"L":26,"b":0.62,"m":1.3,"e":0.53},{"L":26,"b":0.625,"m":1.34,"e":0.55},{"L":26,"b":0.63,"m":1.36,"e":0.55},{"L":26,"b":0.635,"m":1.35,"e":0.53},{"L":26,"b":0.64,"m":1.32,"e":0.5},{"L":26,"b":0.645,"m":1.28,"e":0.48},
{"L":26,"b":0.65,"m":1.26,"e":0.48},{"L":26,"b":0.655,"m":1.26,"e":0.47},{"L":26,"b":0.66,"m":1.28,"e":0.48},{"L":26,"b":0.665,"m":1.32,"e":0.5},{"L":26,"b":0.67,"m":1.37,"e":0.53},{"L":26,"b":0.675,"m":1.43,"e":0.56},{"L":26,"b":0.68,"m":1.49,"e":0.63},{"L":26,"b":0.685,"m":1.54,"e":0.66},{"L":26,"b":0.69,"m":1.57,"e":0.68},{"L":26,"b":0.695,"m":1.59,"e":0.7},
{"L":26,"b":0.7,"m":1.6,"e":0.71},{"L":26,"b":0.705,"m":1.6,"e":0.71},{"L":26,"b":0.71,"m":1.58,"e":0.72},{"L":26,"b":0.715,"m":1.55,"e":0.73},{"L":26,"b":0.72,"m":1.52,"e":0.72},{"L":26,"b":0.725,"m":1.48,"e":0.69},{"L":26,"b":0.73,"m":1.44,"e":0.65},{"L":26,"b":0.735,"m":1.41,"e":0.62},{"L":26,"b":0.74,"m":1.37,"e":0.57},{"L":26,"b":0.745,"m":1.34,"e":0.56},{"L":26,"b":0.75,"m":1.32,"e":0.56}
]},
"encoding":{
 "x":{"field":"b","type":"quantitative","scale":{"domain":[0.3,0.75],"nice":false,"zero":false},
  "axis":{"values":[0.3,0.4,0.5,0.6,0.7],"format":".1f","title":"β","titleFontStyle":"italic","titlePadding":6}},
 "y":{"field":"m","type":"quantitative","scale":{"domain":[0,4],"nice":false},
  "axis":{"values":[0,0.5,1,1.5,2,2.5,3,3.5,4],"format":".1f","title":"χₘ = L³Var(m)","titlePadding":8}},
 "color":{"field":"L","type":"nominal",
  "scale":{"domain":[12,14,16,18,20,22,24,26],"range":["#b7e2af","#9fd699","#80ca80","#5cb56b","#3d9c59","#278449","#136b39","#08502a"]},
  "legend":{"orient":"none","legendX":7,"legendY":7,"columns":2,"title":null,"fillColor":"#f2f2f2","padding":4,
   "symbolType":"M-1,-0.4V0.4M-1,0H1M1,-0.4V0.4","symbolSize":380,"symbolStrokeWidth":1.5,"symbolFillColor":"transparent","symbolOpacity":0.8,"symbolOffset":3,
   "labelOffset":14,"columnPadding":24,"rowPadding":0,"labelFont":"Liberation Serif","labelFontSize":12,"labelColor":"#333","labelExpr":"'L = ' + datum.label"}}
},
"layer":[
 {"mark":{"type":"errorbar","ticks":{"size":4},"thickness":1,"opacity":0.6},"encoding":{"yError":{"field":"e"}}},
 {"mark":{"type":"line","strokeWidth":1}}
],
"config":{
 "view":{"stroke":null},
 "axis":{"grid":false,"domainColor":"#555","tickColor":"#555","labelColor":"#333","titleColor":"#333","labelFont":"Liberation Serif","titleFont":"Liberation Serif","labelFontSize":11.5,"titleFontSize":12.5,"titleFontWeight":"normal","tickSize":4,"labelPadding":3}
}
}
